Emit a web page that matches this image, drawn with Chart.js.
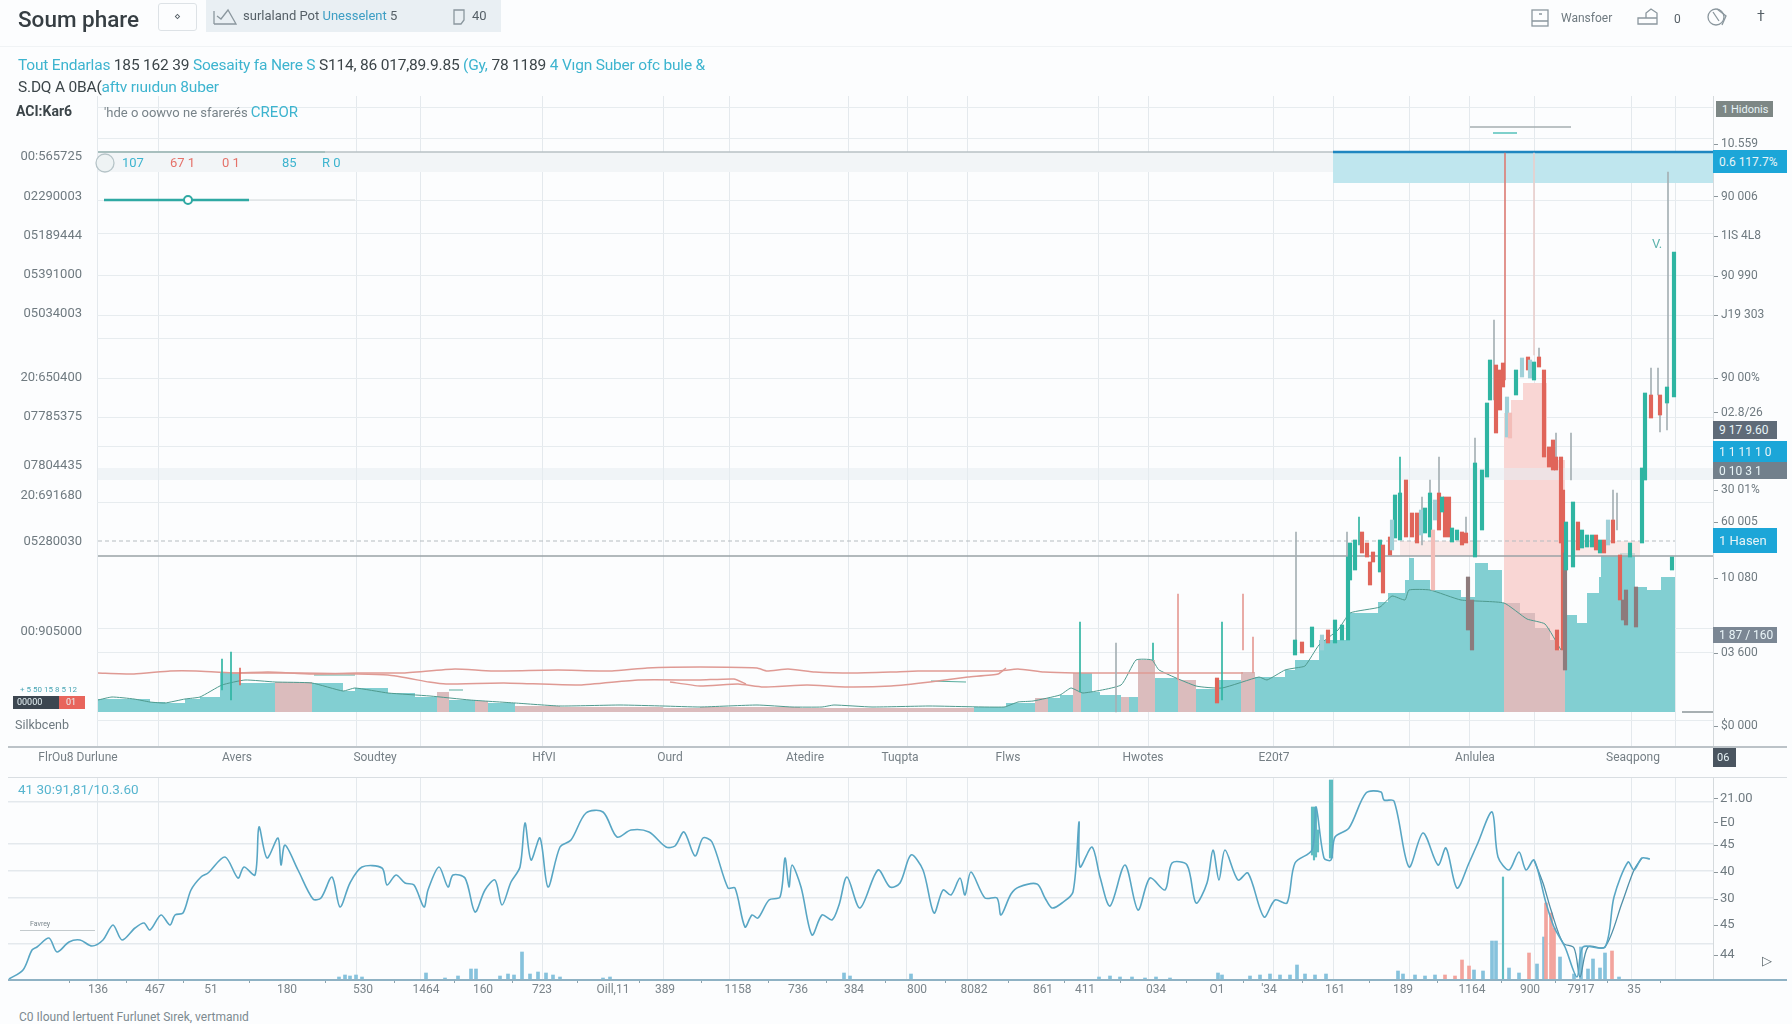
<!DOCTYPE html>
<html>
<head>
<meta charset="utf-8">
<title>Soum phare</title>
<script src="https://cdn.jsdelivr.net/npm/chart.js@4"></script>
<style>
html, body { margin: 0; padding: 0; background: #fcfdfe; }
body { width: 1792px; height: 1024px; position: relative; overflow: hidden; font-family: Roboto, "Liberation Sans", sans-serif; color: #555f66; }
canvas { position: absolute; left: 0; }
.t { position: absolute; white-space: nowrap; line-height: 1; }
.b { color: #3db4cf; }
.k { color: #3c4549; }
.r { color: #e5726a; }
.tag { position: absolute; color: #e8f4f7; font-size: 12px; line-height: 1; display: flex; align-items: center; padding-left: 6px; box-sizing: border-box; white-space: nowrap; }
.rule { position: absolute; }
svg { position: absolute; fill: none; stroke: #8b979e; stroke-width: 1.3; }
</style>
</head>
<body>
<canvas id="mainChart" width="1792" height="770" style="top:0"></canvas>
<canvas id="lowerChart" width="1792" height="233" style="top:767px"></canvas>

<!-- header -->
<div class="rule" style="left:0;top:46px;width:1792px;height:1px;background:#f0f3f5"></div>
<div class="t" style="left:18px;top:8px;font-size:22.5px;font-weight:500;color:#363e43">Soum phare</div>
<div class="rule" style="left:158px;top:3px;width:37px;height:26px;border:1px solid #dde2e6;border-radius:3px;text-align:center;font-size:11px;line-height:26px">&#8900;</div>
<div class="rule" style="left:206px;top:0;width:295px;height:32px;background:#e9eff3"></div>
<svg style="left:213px;top:8px" width="24" height="18"><path d="M1 16 L1 3 M1 16 L23 16 L15 2 L8 11 L4 8"/></svg>
<div class="t" style="left:243px;top:9px;font-size:13px">surlaland Pot <span class="b" style="color:#3d9ec4">Unesselent</span> 5</div>
<svg style="left:453px;top:9px" width="12" height="16"><path d="M1 1 H11 V11 L8 15 H1 Z"/></svg>
<div class="t" style="left:472px;top:9px;font-size:13px">40</div>

<svg style="left:1531px;top:9px" width="18" height="18"><rect x="1" y="1" width="16" height="16"/><path d="M1 12 H17 M8 5 H11"/></svg>
<div class="t" style="left:1561px;top:12px;font-size:12px;color:#6f7a80">Wansfoer</div>
<svg style="left:1637px;top:8px" width="22" height="18"><path d="M1 16 H20 V5 L14 1 L9 5 V10 H1 Z M9 10 H20"/></svg>
<div class="t" style="left:1674px;top:13px;font-size:12px">0</div>
<svg style="left:1705px;top:6px" width="24" height="22"><circle cx="11" cy="11" r="8"/><path d="M8 6 L14 15 M12 3 L21 10 L17 19"/></svg>
<div class="t" style="left:1757px;top:9px;font-size:14px">&#8224;</div>

<div class="t" style="left:18px;top:58px;font-size:15.5px;letter-spacing:-.2px"><span class="b">Tout Endarlas</span> <span class="k">185 162 39</span> <span class="b">Soesaity fa Nere S</span> <span class="k">S114, 86 017,89.9.85</span> <span class="b">(Gy,</span> <span class="k">78 1189</span> <span class="b">4 Vıgn Suber ofc bule &amp;</span></div>
<div class="t" style="left:18px;top:80px;font-size:15.5px;letter-spacing:-.2px"><span class="k">S.DQ A 0BA(</span><span class="b">aftv rıuıdun 8uber</span></div>
<div class="t" style="left:16px;top:104px;font-size:14px;font-weight:700;color:#3c4549">ACI:Kar6</div>
<div class="t" style="left:104px;top:105px;font-size:13px;color:#788389">'hde o oowvo ne sfarerés <span class="b" style="font-size:15px">CREOR</span></div>

<!-- legend row inside the plot -->
<svg style="left:93px;top:152px;stroke:#b6c4c8" width="24" height="22"><circle cx="12" cy="11" r="9" fill="#eef3f4"/></svg>
<div class="t b" style="left:122px;top:156px;font-size:13px">107</div>
<div class="t r" style="left:170px;top:156px;font-size:13px">67 1</div>
<div class="t r" style="left:222px;top:156px;font-size:13px">0 1</div>
<div class="t b" style="left:282px;top:156px;font-size:13px">85</div>
<div class="t b" style="left:322px;top:156px;font-size:13px">R 0</div>
<div class="t" style="left:1652px;top:237px;font-size:13px;color:#5db3ad">V.</div>

<!-- price tags -->
<div class="tag" style="left:1716px;top:101px;width:57px;height:16px;background:#7d8785;font-size:11px">1 Hidonis</div>
<div class="tag" style="left:1713px;top:150px;width:74px;height:23px;background:#1ca6d8">0.6 117.7%</div>
<div class="tag" style="left:1713px;top:421px;width:64px;height:18px;background:#5f6b78">9 17 9.60</div>
<div class="tag" style="left:1713px;top:441px;width:74px;height:21px;background:#1ca6d8">1 1 11 1 0</div>
<div class="tag" style="left:1713px;top:462px;width:74px;height:17px;background:#72808c">0 10 3 1</div>
<div class="tag" style="left:1713px;top:528px;width:64px;height:25px;background:#1ca6d8;font-size:13px">1 Hasen</div>
<div class="tag" style="left:1713px;top:627px;width:64px;height:16px;background:#7b8794">1 87 / 160</div>
<div class="tag" style="left:1713px;top:748px;width:23px;height:19px;background:#4a5560;font-size:11px;padding-left:4px">06</div>

<div class="t" style="left:20px;top:686px;font-size:8px;color:#4aa6b5">+ 5 50 15 8 5 12</div>
<div class="tag" style="left:13px;top:696px;width:46px;height:13px;background:#3c4650;font-size:9px;padding-left:4px">00000</div>
<div class="tag" style="left:59px;top:696px;width:26px;height:13px;background:#e8655c;font-size:9px;padding-left:7px">01</div>
<div class="t" style="left:15px;top:719px;font-size:12.5px;color:#6f7a80">Silkbcenb</div>

<!-- panel rules -->
<div class="rule" style="left:8px;top:746px;width:1779px;height:2px;background:#bcc3c8"></div>
<div class="rule" style="left:8px;top:777px;width:1779px;height:1px;background:#d9dee2"></div>
<div class="rule" style="left:8px;top:979px;width:1779px;height:2px;background:#8fb2c4"></div>

<div class="t" style="left:18px;top:783px;font-size:13.5px;color:#57b5cf">41 30:91,81/10.3.60</div>
<div class="t" style="left:30px;top:921px;font-size:7px;color:#7a868c">Favrey</div>
<div class="rule" style="left:20px;top:930px;width:75px;height:1px;background:#c3cacd"></div>
<div class="t" style="left:1762px;top:954px;font-size:13px;color:#59646a">&#9655;</div>
<div class="t" style="left:19px;top:1011px;font-size:12px;color:#7d8a90">C0 Ilound lertuent Furlunet Sırek, vertmanıd</div>

<script>
// ---- main panel, price ticks ----
const leftTickValues = [589, 549, 510, 471, 432, 368, 329, 280, 250, 204, 114];
const leftTickLabels = ["00:565725", "02290003", "05189444", "05391000", "05034003", "20:650400", "07785375", "07804435", "20:691680", "05280030", "00:905000"];
const rightTickValues = [602, 549, 510, 470, 431, 368, 333, 256, 224, 168, 93, 20];
const rightTickLabels = ["10.559", "90 006", "1IS 4L8", "90 990", "J19 303", "90 00%", "02.8/26", "30 01%", "60 005", "10 080", "03 600", "$0 000"];
const gridValues = [639, 607, 546, 513, 471, 431, 408, 368, 329, 300, 244, 118, 94, 26];
const gridPositions = [97, 158, 356, 420, 542, 663, 729, 848, 907, 967, 1098, 1148, 1273, 1333, 1409, 1469, 1534, 1631, 1675];
const monthPositions = [78, 237, 375, 544, 670, 805, 900, 1008, 1143, 1274, 1475, 1633];
const monthLabels = ["FlrOu8 Durlune", "Avers", "Soudtey", "HfVI", "Ourd", "Atedire", "Tuqpta", "Flws", "Hwotes", "E20t7", "Anlulea", "Seaqpong"];

// ---- main panel, stepped area under the candles ----
const areaX = [98, 125, 150, 165, 185, 200, 220, 240, 275, 312, 343, 355, 388, 415, 437, 449, 475, 488, 515, 560, 600, 663, 700, 800, 900, 974, 1006, 1035, 1048, 1060, 1073, 1081, 1092, 1100, 1121, 1129, 1138, 1155, 1178, 1196, 1215, 1241, 1255, 1285, 1295, 1319, 1347, 1350, 1378, 1388, 1405, 1409, 1414, 1423, 1430, 1461, 1475, 1488, 1502, 1504, 1520, 1535, 1550, 1557, 1565, 1577, 1587, 1599, 1601, 1620, 1635, 1647, 1661, 1675];
const areaTop = [47, 47, 44, 43, 47, 49, 73, 63, 64, 63, 55, 58, 53, 49, 54, 46, 45, 43, 40, 39, 39, 38, 39, 38, 38, 39, 43, 48, 48, 51, 73, 73, 54, 51, 49, 49, 86, 68, 66, 57, 66, 74, 69, 76, 86, 106, 114, 133, 144, 153, 166, 188, 166, 166, 156, 149, 183, 176, 143, 143, 133, 118, 106, 96, 131, 123, 153, 169, 191, 193, 159, 156, 169, 173];
const areaRising = [1, 1, 1, 1, 1, 1, 1, 1, 0, 1, 1, 1, 1, 1, 0, 1, 0, 1, 0, 0, 0, 0, 0, 0, 0, 1, 1, 0, 1, 1, 0, 1, 1, 1, 0, 1, 0, 1, 0, 1, 1, 0, 1, 1, 1, 1, 1, 1, 1, 1, 1, 1, 1, 1, 1, 1, 1, 1, 1, 0, 0, 0, 0, 0, 1, 1, 1, 1, 1, 1, 1, 1, 1, 1];
const paleX = [1504, 1511, 1523, 1547, 1556, 1565];
const paleTop = [333, 346, 363, 299, 286, 286];

// ---- main panel, candles ----
const candleX = [1217, 1295, 1302, 1312, 1328, 1335, 1348, 1350, 1355, 1362, 1367, 1373, 1380, 1383, 1390, 1395, 1400, 1406, 1412, 1417, 1425, 1430, 1433, 1439, 1445, 1449, 1457, 1466, 1468, 1475, 1487, 1490, 1496, 1503, 1507, 1510, 1516, 1522, 1528, 1539, 1544, 1549, 1556, 1557, 1561, 1563, 1565, 1566, 1573, 1578, 1587, 1592, 1600, 1604, 1613, 1620, 1623, 1630, 1636, 1642, 1645, 1651, 1660, 1667, 1672, 1674, 1322, 1342, 1370, 1392, 1421, 1435, 1442, 1452, 1462, 1472, 1482, 1500, 1530, 1534, 1553, 1582, 1596, 1608, 1626];
const candleHigh = [68, 106, 104, 119, 116, 126, 189, 203, 206, 214, 203, 194, 206, 201, 209, 251, 253, 266, 233, 233, 238, 253, 216, 253, 249, 249, 216, 213, 169, 283, 343, 386, 381, 383, 349, 333, 376, 388, 389, 389, 376, 299, 289, 116, 289, 256, 193, 224, 244, 224, 211, 211, 206, 206, 226, 191, 146, 203, 159, 278, 353, 351, 351, 359, 189, 494, 111, 121, 184, 226, 236, 246, 249, 218, 214, 146, 276, 376, 386, 384, 306, 216, 211, 226, 156];
const candleLow = [43, 91, 93, 99, 103, 103, 106, 166, 176, 193, 189, 184, 174, 153, 191, 208, 206, 209, 209, 203, 213, 209, 156, 216, 209, 209, 206, 203, 116, 189, 269, 346, 313, 359, 309, 308, 351, 369, 376, 379, 289, 279, 276, 96, 203, 96, 76, 176, 179, 196, 199, 199, 193, 193, 203, 146, 126, 189, 119, 203, 266, 328, 331, 343, 176, 349, 96, 106, 161, 196, 211, 226, 234, 204, 201, 96, 216, 336, 368, 366, 276, 198, 196, 201, 121];
// u = closed up, d = closed down, p = washed out, g = dark, w = pale up
const candleTone = ["d", "u", "d", "u", "d", "u", "u", "u", "u", "d", "d", "d", "u", "d", "d", "u", "u", "d", "d", "d", "u", "u", "p", "d", "d", "d", "u", "d", "g", "u", "u", "u", "d", "d", "w", "p", "u", "w", "d", "d", "d", "d", "d", "d", "d", "d", "g", "u", "u", "d", "u", "u", "u", "d", "d", "d", "g", "u", "g", "u", "u", "d", "d", "u", "u", "u", "w", "u", "d", "w", "w", "w", "u", "u", "d", "g", "u", "d", "w", "u", "d", "u", "d", "w", "g"];

// long thin wicks
const wickX = [222, 231, 240, 1080, 1116, 1153, 1178, 1222, 1243, 1253, 1296, 1347, 1359, 1400, 1422, 1430, 1439, 1466, 1475, 1494, 1505, 1534, 1539, 1556, 1571, 1613, 1617, 1651, 1658, 1660, 1667, 1668];
const wickHigh = [87, 94, 78, 124, 103, 103, 152, 124, 152, 109, 214, 214, 229, 289, 249, 266, 289, 229, 308, 426, 593, 593, 398, 313, 313, 256, 253, 378, 378, 331, 343, 574];
const wickLow = [56, 46, 61, 54, 34, 86, 66, 46, 96, 73, 106, 186, 201, 251, 201, 253, 253, 213, 283, 346, 366, 391, 389, 289, 266, 226, 216, 351, 351, 314, 316, 359];
const wickTone = ["u", "u", "d", "u", "n", "u", "l", "u", "l", "l", "n", "n", "u", "u", "n", "n", "n", "n", "n", "n", "e", "f", "n", "n", "n", "n", "n", "n", "n", "n", "n", "n"];

// ---- main panel, thin lines ----
const upperLineX = [98, 134, 170, 196, 232, 268, 312, 357, 402, 455, 491, 558, 612, 647, 700, 757, 767, 788, 815, 853, 891, 918, 968, 998, 1018, 1044, 1075, 1121, 1178, 1217, 1243];
const upperLine = [73, 72, 75, 75, 73, 74, 72, 73, 73, 77, 75, 76, 75, 78, 79, 78, 75, 77, 74, 73, 74, 75, 75, 75, 77, 74, 73, 73, 73, 73, 73];
const middleLineX = [232, 300, 388, 429, 446, 504, 580, 638, 700, 734, 746];
const middleLine = [73, 73, 71, 64, 62, 63, 61, 66, 66, 67, 62];
const lowerLineX = [670, 700, 738, 763, 807, 845, 891, 930, 968, 998, 1006];
const lowerLine = [64, 60, 62, 59, 61, 59, 60, 64, 69, 72, 78];
const trendX = [98, 112, 134, 150, 165, 185, 200, 222, 245, 275, 312, 343, 355, 388, 430, 470, 515, 560, 620, 663, 700, 757, 792, 822, 834, 872, 930, 1004, 1018, 1033, 1060, 1071, 1083, 1121, 1136, 1152, 1159, 1196, 1222, 1259, 1267, 1285, 1295, 1305, 1319, 1338, 1350, 1380, 1392, 1405, 1409, 1430, 1461, 1504, 1527, 1545, 1561];
const trendLine = [46, 49, 47, 44, 43, 47, 49, 61, 66, 64, 63, 55, 58, 53, 50, 46, 43, 40, 41, 40, 39, 41, 39, 39, 41, 39, 40, 39, 44, 45, 51, 58, 53, 61, 86, 86, 76, 60, 58, 69, 66, 76, 78, 80, 101, 116, 133, 139, 150, 146, 156, 156, 146, 143, 127, 122, 96];
const stubX = [314, 355, null, 449, 463, null, 931, 966];
const stubY = [71, 71, null, 56, 56, null, 65, 64];

// ---- lower panel ----
const oscX = [9, 23, 32, 37, 49, 57, 69, 80, 92, 103, 113, 122, 135, 144, 150, 161, 170, 175, 183, 191, 201, 208, 225, 238, 244, 255, 259, 267, 278, 281, 285, 298, 313, 321, 332, 340, 350, 362, 382, 387, 396, 405, 414, 424, 428, 439, 448, 453, 465, 475, 485, 495, 502, 511, 520, 525, 531, 540, 548, 560, 571, 586, 603, 617, 631, 649, 666, 675, 684, 695, 703, 712, 728, 735, 745, 752, 758, 769, 780, 785, 789, 792, 801, 812, 822, 832, 839, 847, 860, 878, 890, 900, 911, 923, 934, 943, 951, 960, 965, 971, 985, 997, 1001, 1011, 1019, 1037, 1045, 1052, 1062, 1073, 1079, 1080, 1092, 1100, 1110, 1125, 1138, 1150, 1165, 1172, 1187, 1196, 1207, 1213, 1219, 1225, 1238, 1248, 1264, 1275, 1287, 1295, 1312, 1316, 1324, 1331, 1335, 1349, 1366, 1381, 1384, 1394, 1409, 1423, 1438, 1446, 1457, 1469, 1477, 1492, 1498, 1509, 1519, 1526, 1534, 1546, 1554, 1565, 1577, 1583, 1605, 1614, 1628, 1634, 1642, 1650];
const oscLine = [1, 10, 30, 33, 42, 28, 38, 40, 34, 40, 55, 40, 52, 57, 50, 65, 55, 65, 67, 90, 103, 107, 123, 102, 113, 105, 153, 122, 142, 115, 135, 110, 81, 82, 103, 73, 97, 113, 112, 95, 105, 97, 95, 73, 90, 113, 93, 105, 102, 68, 90, 100, 75, 98, 113, 157, 120, 142, 93, 133, 140, 167, 168, 143, 150, 148, 133, 134, 148, 124, 142, 138, 92, 92, 53, 65, 62, 80, 83, 122, 93, 115, 93, 45, 65, 60, 75, 103, 72, 110, 93, 97, 125, 110, 67, 90, 85, 102, 85, 108, 82, 82, 65, 86, 93, 96, 82, 72, 77, 88, 158, 113, 133, 103, 74, 115, 70, 102, 90, 117, 115, 77, 97, 130, 100, 130, 100, 107, 63, 80, 77, 117, 130, 173, 122, 120, 143, 152, 187, 188, 180, 179, 113, 147, 115, 132, 92, 117, 135, 168, 123, 110, 128, 110, 120, 77, 53, 33, 3, 33, 33, 83, 118, 110, 122, 121];
const signalX = [1534, 1543, 1551, 1563, 1574, 1580, 1588, 1605, 1622, 1634, 1642];
const signalLine = [120, 97, 70, 37, 32, 3, 33, 33, 77, 110, 122];
const spikeX = [1312, 1314, 1316, 1318, 1330, 1332, 1503];
const spikeHigh = [173, 173, 173, 150, 200, 200, 103];
const spikeLow = [125, 120, 123, 128, 122, 122, 0];
const volumeX = [339, 345, 350, 356, 362, 426, 445, 458, 471, 476, 500, 508, 514, 522, 530, 538, 546, 553, 560, 603, 610, 844, 850, 911, 1099, 1110, 1120, 1132, 1145, 1156, 1170, 1218, 1222, 1250, 1260, 1270, 1280, 1290, 1297, 1305, 1315, 1326, 1398, 1403, 1415, 1425, 1435, 1445, 1455, 1462, 1469, 1474, 1483, 1492, 1496, 1509, 1519, 1529, 1537, 1544, 1546, 1551, 1554, 1560, 1574, 1581, 1588, 1593, 1600, 1605, 1612, 1619];
const volumeValue = [3, 5, 4, 5, 3, 7, 2, 4, 11, 11, 4, 6, 5, 28, 6, 8, 7, 5, 3, 2, 3, 7, 4, 6, 3, 4, 3, 3, 2, 3, 2, 7, 5, 4, 5, 6, 5, 5, 15, 6, 5, 6, 9, 6, 5, 4, 5, 5, 4, 20, 14, 10, 9, 39, 39, 12, 7, 27, 16, 43, 77, 67, 52, 23, 6, 33, 11, 21, 12, 27, 29, 3];
const volumeFalling = [0, 0, 0, 0, 0, 0, 0, 0, 0, 0, 0, 0, 0, 0, 0, 0, 0, 0, 0, 0, 0, 0, 0, 0, 0, 0, 0, 0, 0, 0, 0, 0, 0, 0, 0, 0, 0, 0, 0, 0, 0, 0, 0, 0, 0, 0, 0, 1, 1, 1, 1, 0, 0, 0, 0, 0, 0, 1, 0, 0, 1, 1, 1, 0, 0, 0, 0, 0, 0, 0, 1, 0];
const oscRightValues = [181, 157, 135, 108, 81, 55, 25];
const oscRightLabels = ["21.00", "E0", "45", "40", "30", "45", "44"];
const oscGridValues = [178, 136, 109, 82, 36];
const oscTickPositions = [98, 155, 211, 287, 363, 426, 483, 542, 613, 665, 738, 798, 854, 917, 974, 1043, 1085, 1156, 1217, 1269, 1335, 1403, 1472, 1530, 1581, 1634];
const oscTickLabels = ["136", "467", "51", "180", "530", "1464", "160", "723", "Oill,11", "389", "1158", "736", "384", "800", "8082", "861", "411", "034", "O1", "'34", "161", "189", "1164", "900", "7917", "35"];

const TONES = { u: "#2fb5a2", d: "#e0655a", p: "#f3bdb8", g: "#8d7b7c", w: "#9fd0d8", n: "#a5b0b4", l: "#e59a94", e: "#dc7f78", f: "#e8cfcd" };

function zip(xs, ys){
    return xs.map((x, i) => ({ x: x, y: ys[i] }));
}

function ranges(xs, highs, lows){
    return xs.map((x, i) => ({ x: x, y: [lows[i], highs[i]] }));
}

function pinTicks(values){ // a scale that puts its ticks exactly where it is told
    return function(scale){
        scale.ticks = values.map(v => ({ value: v }));
    };
}

function hLine(x0, x1, level, color, width, dash){
    return {
        type: "line", data: [{ x: x0, y: level }, { x: x1, y: level }],
        borderColor: color, borderWidth: width, borderDash: dash || [], pointRadius: 0, order: 3
    };
}

function band(x0, x1, top, bottom, color, order){
    return {
        type: "line", data: [{ x: x0, y: top }, { x: x1, y: top }],
        borderWidth: 0, pointRadius: 0, backgroundColor: color, fill: { value: bottom }, order: order
    };
}

function thinLine(xs, ys, color, width, order, tension){
    return {
        type: "line", data: zip(xs, ys), borderColor: color, borderWidth: width,
        pointRadius: 0, tension: tension || 0.15, order: order
    };
}

const TICK_FONT = { family: "Roboto", size: 12 };

var mainDatasets = [
    {
        type: "bar", data: ranges(wickX, wickHigh, wickLow), barThickness: 1, grouped: false,
        backgroundColor: wickTone.map(t => TONES[t]), order: 1
    },
    {
        type: "bar", data: ranges(candleX, candleHigh, candleLow), barThickness: 3.5, grouped: false,
        backgroundColor: candleTone.map(t => TONES[t]), order: 0
    },
    thinLine(upperLineX, upperLine, "#df9a94", 1.5, 2),
    thinLine(middleLineX, middleLine, "#df9a94", 1.5, 2),
    thinLine(lowerLineX, lowerLine, "#df9a94", 1.5, 2),
    thinLine(trendX, trendLine, "#4f9a8e", 1, 2),
    { type: "line", data: zip(stubX, stubY), borderColor: "#58ad9e", borderWidth: 1.2, pointRadius: 0, order: 2 },
    band(1400, 1480, 205, 190, "rgba(248,222,220,.65)", 5),
    band(1575, 1640, 205, 190, "rgba(248,222,220,.65)", 5),
    hLine(98, 1713, 190, "#9aa2a6", 1.5),
    hLine(98, 1675, 205, "#b5bcc0", 1, [4, 3]),
    band(98, 1713, 278, 266, "rgba(230,236,240,.55)", 4),
    hLine(98, 1333, 594, "#b9c0c4", 1.5),
    hLine(98, 325, 594, "#4fa892", 1.5),
    hLine(1333, 1713, 594, "#1f86c0", 2.5),
    band(98, 1333, 594, 574, "#f2f5f7", 6),
    band(1333, 1713, 594, 563, "#bfe6ee", 6),
    hLine(249, 355, 546, "#e0e4e6", 1.5),
    hLine(104, 249, 546, "#2fa9a3", 2.5),
    {
        type: "line", data: [{ x: 188, y: 546 }], pointRadius: 4, pointBackgroundColor: "#ffffff",
        pointBorderColor: "#2fa9a3", pointBorderWidth: 2, showLine: false, order: 1
    },
    hLine(1470, 1571, 619, "#a6aeb1", 1.5),
    hLine(1493, 1517, 613, "#7ed0cb", 2),
    hLine(1682, 1713, 34, "#8b9599", 1.5),
    {
        type: "line", data: zip(areaX, areaTop), stepped: true, borderWidth: 0, pointRadius: 0,
        backgroundColor: "#82cfd2", fill: { value: 34 }, order: 7,
        segment: { backgroundColor: ctx => areaRising[ctx.p0DataIndex] ? "#82cfd2" : "#dbbcbd" }
    },
    {
        type: "line", data: zip(paleX, paleTop), stepped: true, borderWidth: 0, pointRadius: 0,
        backgroundColor: "#f9d6d4", fill: { value: 34 }, order: 8
    }
];

const CONFIG = {
    type: "line",
    data: { datasets: mainDatasets },
    options: {
        responsive: false,
        animation: false,
        layout: { padding: { top: 96 } },
        plugins: { legend: { display: false }, tooltip: { enabled: false } },
        scales: {
            x: {
                type: "linear", min: 97, max: 1713, bounds: "data", offset: false,
                grid: { display: false, drawTicks: false }, border: { display: false },
                afterBuildTicks: pinTicks(monthPositions),
                afterFit: s => { s.height = 24; },
                ticks: {
                    autoSkip: false, maxRotation: 0, padding: 5, color: "#757f85", font: TICK_FONT,
                    callback: (v, i) => monthLabels[i]
                }
            },
            xGrid: {
                type: "linear", position: "bottom", min: 97, max: 1713, bounds: "data", offset: false,
                border: { display: false },
                grid: { color: "#e4e9ed", drawTicks: false },
                afterBuildTicks: pinTicks(gridPositions),
                afterFit: s => { s.height = 0; },
                ticks: { display: false, autoSkip: false }
            },
            y: {
                type: "linear", position: "left", min: 0, max: 650, bounds: "data",
                grid: { display: false, drawTicks: false }, border: { display: false },
                afterBuildTicks: pinTicks(leftTickValues),
                afterFit: s => { s.width = 97; },
                ticks: {
                    autoSkip: false, padding: 15, color: "#6f7a80", font: { family: "Roboto", size: 13 },
                    callback: (v, i) => leftTickLabels[i]
                }
            },
            yGrid: {
                type: "linear", position: "left", min: 0, max: 650, bounds: "data",
                border: { display: false },
                grid: { color: "#e7ecef", drawTicks: false },
                afterBuildTicks: pinTicks(gridValues),
                afterFit: s => { s.width = 0; },
                ticks: { display: false, autoSkip: false }
            },
            yRight: {
                type: "linear", position: "right", min: 0, max: 650, bounds: "data",
                grid: { drawOnChartArea: false, color: "#8d979c", tickLength: 5 },
                border: { color: "#d5dadd" },
                afterBuildTicks: pinTicks(rightTickValues),
                afterFit: s => { s.width = 79; },
                ticks: {
                    autoSkip: false, padding: 3, color: "#6f7a80", font: TICK_FONT,
                    callback: (v, i) => rightTickLabels[i]
                }
            }
        }
    }
};

var lowerDatasets = [
    thinLine(oscX, oscLine, "#58a6c4", 1.6, 1, 0.3),
    thinLine(signalX, signalLine, "#4f8fa8", 1.3, 2, 0.3),
    {
        type: "bar", data: ranges(spikeX, spikeHigh, spikeLow), barThickness: 1.5, grouped: false,
        backgroundColor: "#5fbdc2", order: 3
    },
    {
        type: "bar", data: zip(volumeX, volumeValue), barThickness: 3, grouped: false,
        backgroundColor: volumeFalling.map(f => f ? "#f2a49d" : "#86c2dc"), order: 4
    }
];

const LOWER_CONFIG = {
    type: "line",
    data: { datasets: lowerDatasets },
    options: {
        responsive: false,
        animation: false,
        layout: { padding: { top: 10, left: 8 } },
        plugins: { legend: { display: false }, tooltip: { enabled: false } },
        scales: {
            x: {
                type: "linear", min: 8, max: 1713, bounds: "data", offset: false,
                grid: { drawOnChartArea: false, color: "#8fa3ad", tickLength: 3 }, border: { display: false },
                afterBuildTicks: pinTicks(oscTickPositions),
                afterFit: s => { s.height = 20; },
                ticks: {
                    autoSkip: false, maxRotation: 0, padding: 0, color: "#7b858b", font: TICK_FONT,
                    callback: (v, i) => oscTickLabels[i]
                }
            },
            xGrid: {
                type: "linear", position: "bottom", min: 8, max: 1713, bounds: "data", offset: false,
                border: { display: false },
                grid: { color: "#e4e9ed", drawTicks: false },
                afterBuildTicks: pinTicks(gridPositions),
                afterFit: s => { s.height = 0; },
                ticks: { display: false, autoSkip: false }
            },
            yGrid: {
                type: "linear", position: "left", min: 0, max: 203, bounds: "data",
                border: { display: false },
                grid: { color: "#e4e9ed", drawTicks: false, lineWidth: 1.5 },
                afterBuildTicks: pinTicks(oscGridValues),
                afterFit: s => { s.width = 0; },
                ticks: { display: false, autoSkip: false }
            },
            y: {
                type: "linear", position: "right", min: 0, max: 203, bounds: "data",
                grid: { drawOnChartArea: false, color: "#8d979c", tickLength: 5 },
                border: { color: "#d5dadd" },
                afterBuildTicks: pinTicks(oscRightValues),
                afterFit: s => { s.width = 79; },
                ticks: {
                    autoSkip: false, padding: 2, color: "#6f7a80", font: { family: "Roboto", size: 13 },
                    callback: (v, i) => oscRightLabels[i]
                }
            }
        }
    }
};

var myChart = new Chart(document.getElementById("mainChart").getContext("2d"), CONFIG);
var lowerChart = new Chart(document.getElementById("lowerChart").getContext("2d"), LOWER_CONFIG);
</script>
</body>
</html>
